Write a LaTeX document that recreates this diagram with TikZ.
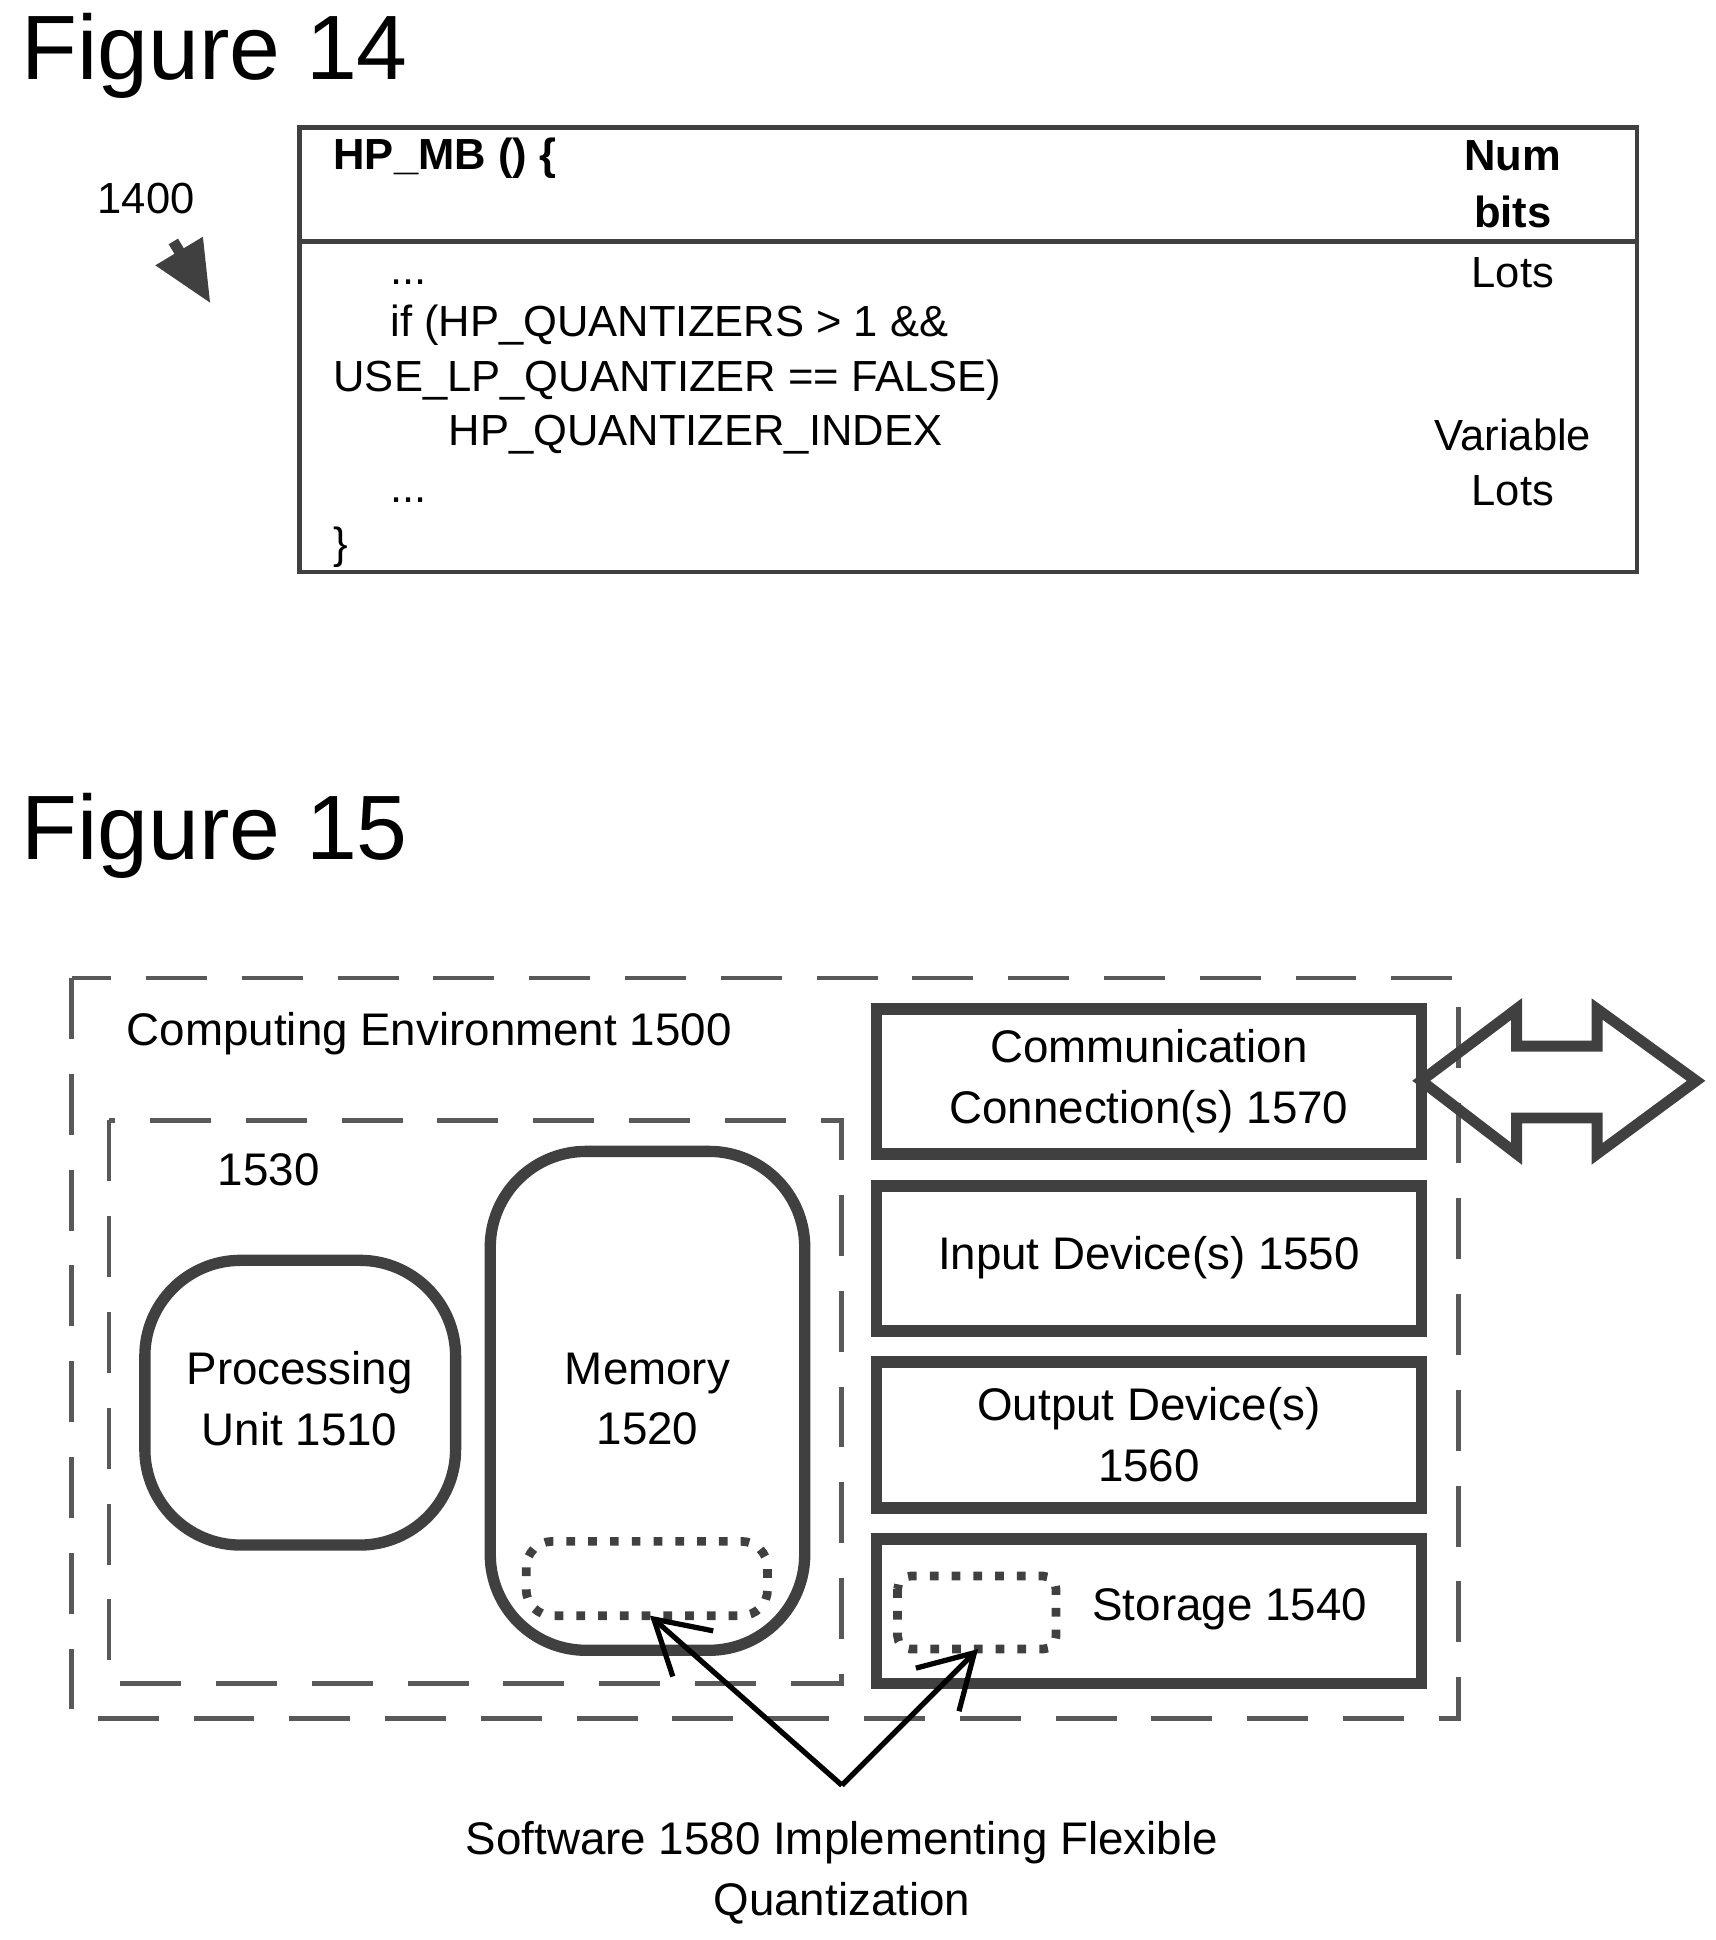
\documentclass[tikz,border=0pt]{standalone}
\usepackage{fontspec}
\setmainfont{Liberation Sans}
\usetikzlibrary{arrows.meta}
\begin{document}
\begin{tikzpicture}[x=0.01cm,y=-0.01cm,
 fig/.style={anchor=west,font=\fontsize{21}{24}\selectfont},
 code/.style={anchor=west,font=\fontsize{10}{12}\selectfont},
 rt/.style={font=\fontsize{10}{12}\selectfont},
 bx/.style={font=\fontsize{10.5}{14}\selectfont,align=center},
 dbox/.style={line width=1.1pt,dash pattern=on 14pt off 8pt,gray!70!black},
 rbox/.style={draw=black!75,line width=2.6pt,rounded corners=22},
 sbox/.style={draw=black!75,line width=2.6pt},
 dot/.style={draw=black!75,line width=2pt,dash pattern=on 2pt off 3pt,rounded corners=6}]
\useasboundingbox (0,0) rectangle (1386,1567);
\node[fig] (f14) at (5,45) {Figure 14};
\node[fig] (f15) at (5,675) {Figure 15};
% table
\draw[black!75,line width=1pt] (242,103) rectangle (1322,462);
\draw[black!75,line width=1pt] (242,195) -- (1322,195);
\node[code,font=\fontsize{10}{12}\selectfont\bfseries] (hp) at (257,128) {HP\_MB () \{};
\node[rt,align=center,font=\fontsize{10}{13}\selectfont\bfseries] (nb) at (1222,149) {Num\\bits};
\node[code] (c1) at (303,228) {...};
\node[code] (c2) at (303,263) {if (HP\_QUANTIZERS > 1 \&\&};
\node[code] (c3) at (257,307) {USE\_LP\_QUANTIZER == FALSE)};
\node[code] (c4) at (350,351) {HP\_QUANTIZER\_INDEX};
\node[code] (c5) at (303,404) {...};
\node[code] (c6) at (257,442) {\}};
\node[rt] (l1) at (1222,220) {Lots};
\node[rt] (l2) at (1222,351) {Variable};
\node[rt] (l3) at (1222,396) {Lots};
\node[rt] (n1400) at (118,160) {1400};
\coordinate (a0) at (140,195); \coordinate (a1) at (170,245);
\draw[line width=2.5pt,black!75,-{Triangle[length=14pt,width=12pt]}] (a0) -- (a1);
% fig 15
\draw[dbox] (58,790) rectangle (1178,1388);
\node[bx,anchor=west] (ce) at (90,835) {Computing Environment 1500};
\draw[dbox] (88,905) rectangle (680,1360);
\node[bx] (n1530) at (217,945) {1530};
\draw[rbox] (117,1018) rectangle (368,1248);
\node[bx] (pu) at (242,1130) {Processing\\Unit 1510};
\draw[rbox] (396,930) rectangle (650,1333);
\node[bx] (mem) at (523,1130) {Memory\\1520};
\draw[dot] (425,1245) rectangle (620,1305);
\coordinate (md) at (525,1305);
\draw[sbox] (708,815) rectangle (1148,932);
\node[bx] (cc) at (928,873) {Communication\\Connection(s) 1570};
\draw[sbox] (708,958) rectangle (1148,1075);
\node[bx] (id) at (928,1016) {Input Device(s) 1550};
\draw[sbox] (708,1100) rectangle (1148,1218);
\node[bx] (od) at (928,1159) {Output Device(s)\\1560};
\draw[sbox] (708,1243) rectangle (1148,1360);
\draw[dot,rounded corners=3] (725,1273) rectangle (853,1332);
\coordinate (sd) at (790,1332);
\node[bx,anchor=west] (st) at (870,1300) {Storage 1540};
\draw[black!75,line width=2.5pt,line join=miter] (1148,873) -- (1225,815) -- (1225,845) -- (1290,845) -- (1290,815) -- (1370,873) -- (1290,932) -- (1290,903) -- (1225,903) -- (1225,932) -- cycle;
\node[bx] (sw) at (680,1513) {Software 1580 Implementing Flexible\\Quantization};
\coordinate (ap) at (680,1442);
\draw[line width=1.2pt,-{Straight Barb[length=12pt,width=14pt]}] (ap) -- (md);
\draw[line width=1.2pt,-{Straight Barb[length=12pt,width=14pt]}] (ap) -- (sd);
\end{tikzpicture}
\end{document}
